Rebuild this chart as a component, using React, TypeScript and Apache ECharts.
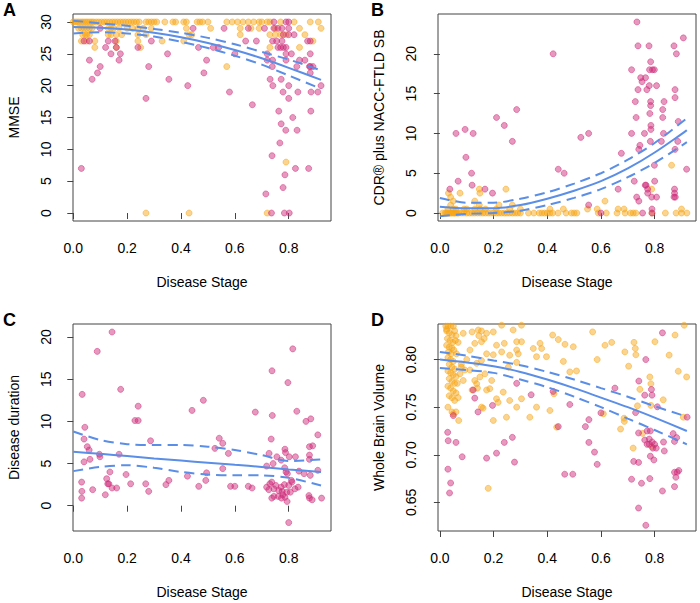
import React, { useEffect, useRef } from "react";
import * as echarts from "echarts";

const FONT = "'Liberation Sans', Arial, Helvetica, sans-serif";
const ORANGE = "rgba(247,165,20,0.6)";
const PINK = "rgba(205,40,120,0.6)";
const BLUE = "#5b8ee6";

const X_TICKS = [0, 0.2, 0.4, 0.6, 0.8];
const A_Y_TICKS = [0, 5, 10, 15, 20, 25, 30];
const B_Y_TICKS = [0, 5, 10, 15, 20];
const C_Y_TICKS = [0, 5, 10, 15, 20];
const D_Y_TICKS = [0.65, 0.7, 0.75, 0.8];

// fitted curves (quadratic fit with 95% CI)
const FIT_X = [0, 0.1, 0.2, 0.3, 0.4, 0.5, 0.6, 0.7, 0.8, 0.92];
const A_FIT = [29.2, 29.1, 28.8, 28.3, 27.6, 26.7, 25.6, 24.3, 22.8, 20.9];
const A_UP = [30.2, 29.8, 29.4, 28.9, 28.3, 27.5, 26.5, 25.3, 24.1, 22.4];
const A_LO = [28.2, 28.4, 28.2, 27.7, 26.9, 25.9, 24.7, 23.3, 21.6, 19.5];
const B_FIT = [0.8, 0.6, 0.6, 1.0, 1.8, 2.8, 4.0, 5.6, 7.6, 10.4];
const B_UP = [1.9, 1.3, 1.3, 1.8, 2.6, 3.7, 5.0, 6.7, 8.8, 11.9];
const B_LO = [-0.4, -0.1, 0.0, 0.3, 1.0, 1.9, 3.0, 4.5, 6.3, 8.9];
const C_FIT = [6.4, 6.15, 5.9, 5.6, 5.35, 5.1, 4.85, 4.6, 4.3, 4.0];
const C_UP = [8.8, 7.8, 7.3, 7.2, 7.2, 7.0, 6.6, 6.0, 5.3, 5.5];
const C_LO = [4.1, 4.6, 4.8, 4.5, 4.0, 3.7, 3.6, 3.6, 3.3, 2.4];
const D_FIT = [0.8, 0.797, 0.793, 0.787, 0.779, 0.77, 0.76, 0.75, 0.739, 0.725];
const D_UP = [0.808, 0.804, 0.799, 0.794, 0.787, 0.779, 0.77, 0.761, 0.751, 0.74];
const D_LO = [0.791, 0.789, 0.786, 0.779, 0.771, 0.761, 0.75, 0.738, 0.726, 0.711];

// Panel A: MMSE
const A_O30 = [0.0, 0.008, 0.015, 0.022, 0.03, 0.037, 0.045, 0.052, 0.06, 0.068, 0.075, 0.085, 0.095, 0.105, 0.115, 0.125, 0.135, 0.145, 0.155, 0.165, 0.175, 0.185, 0.195, 0.205, 0.215, 0.225, 0.235, 0.245, 0.27, 0.28, 0.29, 0.3, 0.31, 0.34, 0.37, 0.38, 0.41, 0.42, 0.46, 0.47, 0.48, 0.5, 0.57, 0.59, 0.61, 0.63, 0.65, 0.67, 0.69, 0.7, 0.72, 0.73, 0.77, 0.82, 0.88, 0.91];
const A_O29 = [0.02, 0.03, 0.04, 0.05, 0.06, 0.07, 0.13, 0.14, 0.15, 0.17, 0.2, 0.22, 0.24, 0.26, 0.29, 0.42, 0.51, 0.62, 0.66, 0.69, 0.75, 0.84, 0.92];
const A_O28 = [0.035, 0.045, 0.05, 0.06, 0.13, 0.14, 0.16, 0.18, 0.24, 0.27, 0.43, 0.44, 0.62, 0.73, 0.75, 0.77, 0.79, 0.86];
const A_O27 = [0.03, 0.05, 0.08, 0.16, 0.24, 0.33, 0.41, 0.89];
const A_O26 = [0.08, 0.16, 0.25, 0.73, 0.84];
const A_O_OTHER: number[][] = [[0.57, 23], [0.79, 8], [0.27, 0], [0.43, 0], [0.72, 0]];
const A_PINK: number[][] = [
  [0.03, 7], [0.06, 24], [0.07, 21], [0.09, 22], [0.1, 23], [0.04, 27], [0.06, 27], [0.1, 29], [0.12, 26], [0.13, 27],
  [0.14, 25], [0.155, 27], [0.16, 26], [0.17, 24], [0.175, 25], [0.24, 26], [0.27, 18], [0.28, 23], [0.29, 27], [0.35, 25],
  [0.355, 21], [0.425, 20], [0.445, 29], [0.465, 26], [0.485, 22], [0.495, 24], [0.52, 26], [0.54, 26], [0.58, 19], [0.6, 25],
  [0.64, 27], [0.665, 17], [0.65, 29], [0.56, 29], [0.739, 23], [0.731, 21], [0.741, 20], [0.772, 21], [0.779, 19], [0.8, 20],
  [0.8, 18], [0.834, 19], [0.883, 19], [0.908, 19], [0.92, 20], [0.877, 23], [0.88, 22], [0.763, 16], [0.815, 15], [0.882, 16],
  [0.772, 14], [0.789, 13], [0.831, 13], [0.767, 11], [0.738, 9], [0.825, 7], [0.874, 7], [0.786, 6], [0.779, 4], [0.715, 3],
  [0.736, 0], [0.784, 0], [0.802, 0], [0.745, 30], [0.79, 30], [0.8, 30], [0.71, 29], [0.745, 29], [0.76, 29], [0.775, 29],
  [0.8, 29], [0.68, 27], [0.74, 27], [0.755, 27], [0.775, 27], [0.87, 27], [0.88, 27], [0.76, 26], [0.77, 26], [0.78, 26],
  [0.79, 26], [0.79, 25], [0.81, 25], [0.88, 25], [0.72, 24], [0.74, 24], [0.79, 24], [0.84, 24], [0.78, 28], [0.8, 28],
  [0.82, 28], [0.72, 25], [0.86, 24], [0.83, 23], [0.88, 23], [0.89, 23],
];

// Panel B: CDR plus NACC-FTLD SB
const B_O0 = [0.01, 0.02, 0.025, 0.03, 0.035, 0.04, 0.045, 0.05, 0.055, 0.06, 0.065, 0.07, 0.08, 0.09, 0.1, 0.11, 0.12, 0.13, 0.14, 0.15, 0.16, 0.17, 0.18, 0.19, 0.2, 0.21, 0.22, 0.23, 0.24, 0.25, 0.26, 0.27, 0.28, 0.29, 0.3, 0.33, 0.35, 0.37, 0.38, 0.39, 0.4, 0.41, 0.42, 0.44, 0.47, 0.49, 0.5, 0.51, 0.59, 0.62, 0.66, 0.69, 0.71, 0.72, 0.73, 0.79, 0.84, 0.88, 0.9, 0.92];
const B_O05 = [0.03, 0.05, 0.06, 0.09, 0.1, 0.13, 0.15, 0.17, 0.21, 0.26, 0.3, 0.41, 0.46, 0.55, 0.586, 0.664, 0.686, 0.9];
const B_O_OTHER: number[][] = [[0.032, 2.5], [0.04, 2], [0.075, 2.5], [0.05, 1.5], [0.147, 3], [0.149, 2.5], [0.246, 3], [0.13, 1.5], [0.147, 1], [0.04, 1], [0.615, 1.5], [0.863, 6], [0.789, 3], [0.22, 1], [0.27, 1]];
const B_PINK: number[][] = [
  [0.037, 3], [0.06, 10], [0.068, 4], [0.094, 10.5], [0.097, 7], [0.118, 5], [0.124, 10], [0.12, 3.5], [0.168, 3], [0.196, 2.5],
  [0.211, 12], [0.24, 11], [0.27, 9], [0.286, 13], [0.422, 20], [0.441, 5.5], [0.463, 5], [0.525, 9.5], [0.554, 10], [0.554, 1],
  [0.6, 0], [0.664, 3], [0.676, 7.5], [0.714, 10], [0.714, 18], [0.724, 4], [0.728, 14], [0.731, 12], [0.733, 2], [0.734, 24],
  [0.738, 21], [0.738, 15.5], [0.741, 8], [0.741, 1.5], [0.745, 8.5], [0.748, 17], [0.753, 16.5], [0.762, 10], [0.765, 3.5], [0.768, 3.5],
  [0.766, 17], [0.771, 15.5], [0.774, 3], [0.774, 2.5], [0.779, 21], [0.78, 16], [0.781, 18], [0.782, 12.5], [0.785, 19], [0.785, 14],
  [0.785, 13.5], [0.786, 11], [0.786, 10.5], [0.784, 9], [0.789, 2], [0.79, 0.5], [0.792, 18], [0.799, 18], [0.799, 6], [0.8, 4],
  [0.807, 16], [0.807, 2], [0.825, 9], [0.83, 13], [0.83, 12], [0.833, 10], [0.835, 14], [0.872, 21], [0.876, 15.5], [0.876, 14.5],
  [0.876, 8], [0.874, 3], [0.874, 2.5], [0.872, 2], [0.877, 2], [0.881, 20], [0.886, 9], [0.888, 11.5], [0.907, 22], [0.919, 5.5],
  [0.755, 0], [0.79, 0],
];

// Panel C: Disease duration
const C_PINK: number[][] = [
  [0.033, 13.2], [0.031, 2.8], [0.032, 1.7], [0.031, 0.9], [0.04, 7.9], [0.04, 5.2], [0.043, 9.3], [0.052, 7.0], [0.059, 6.6], [0.062, 5.5],
  [0.072, 1.9], [0.089, 18.3], [0.097, 6.1], [0.099, 5.8], [0.119, 1.3], [0.124, 3.2], [0.128, 2.6], [0.132, 2.6], [0.136, 4.0], [0.144, 20.6],
  [0.144, 2.1], [0.161, 2.1], [0.17, 6.1], [0.176, 13.8], [0.196, 3.7], [0.213, 2.6], [0.229, 10.1], [0.241, 10.1], [0.241, 11.8], [0.269, 2.6],
  [0.28, 1.7], [0.287, 7.7], [0.344, 2.5], [0.355, 3.0], [0.424, 3.5], [0.441, 11.3], [0.466, 2.3], [0.483, 12.5], [0.492, 3.0], [0.495, 3.9],
  [0.526, 6.8], [0.542, 8.0], [0.555, 7.4], [0.555, 4.4], [0.576, 6.2], [0.584, 2.3], [0.6, 2.3], [0.65, 2.3], [0.664, 2.1], [0.676, 11.1],
  [0.815, 18.6], [0.738, 16.0], [0.797, 14.6], [0.739, 10.7], [0.83, 11.2], [0.864, 10.0], [0.882, 10.3], [0.908, 8.4], [0.735, 7.9], [0.877, 7.0],
  [0.889, 7.1], [0.786, 6.7], [0.788, 6.3], [0.727, 6.2], [0.756, 5.8], [0.802, 5.8], [0.825, 5.8], [0.877, 6.0], [0.877, 5.5], [0.772, 5.4],
  [0.742, 5.0], [0.718, 4.7], [0.785, 4.5], [0.838, 4.1], [0.857, 3.8], [0.88, 3.6], [0.908, 4.2], [0.718, 2.2], [0.73, 2.6], [0.737, 2.8],
  [0.752, 2.4], [0.726, 1.9], [0.745, 2.0], [0.763, 1.8], [0.772, 2.2], [0.776, 1.7], [0.778, 1.3], [0.784, 2.5], [0.793, 1.6], [0.806, 1.6],
  [0.823, 2.0], [0.835, 2.2], [0.812, 2.8], [0.8, 2.4], [0.737, 0.9], [0.745, 1.1], [0.761, 1.1], [0.773, 0.9], [0.786, 1.0], [0.794, 0.5],
  [0.875, 1.2], [0.877, 0.9], [0.887, 0.7], [0.922, 0.9], [0.8, -2.0], [0.79, 4.0], [0.795, 3.8], [0.81, 3.0],
];

// Panel D: Whole Brain Volume
const D_ORANGE: number[][] = [
  [0.022, 0.835], [0.03, 0.835], [0.04, 0.835], [0.05, 0.835], [0.025, 0.83], [0.035, 0.828], [0.045, 0.826], [0.055, 0.83], [0.06, 0.825], [0.028, 0.822],
  [0.038, 0.82], [0.048, 0.818], [0.058, 0.82], [0.068, 0.818], [0.025, 0.815], [0.035, 0.813], [0.045, 0.812], [0.032, 0.808], [0.042, 0.806], [0.052, 0.81],
  [0.062, 0.806], [0.03, 0.802], [0.04, 0.8], [0.05, 0.798], [0.035, 0.795], [0.045, 0.792], [0.055, 0.79], [0.03, 0.788], [0.04, 0.786], [0.05, 0.784],
  [0.06, 0.782], [0.035, 0.78], [0.045, 0.777], [0.055, 0.775], [0.03, 0.772], [0.04, 0.77], [0.05, 0.767], [0.06, 0.765], [0.035, 0.762], [0.045, 0.76],
  [0.055, 0.757], [0.03, 0.75], [0.045, 0.745], [0.05, 0.743], [0.07, 0.736], [0.065, 0.775], [0.075, 0.785], [0.08, 0.795], [0.025, 0.8317], [0.087, 0.8275],
  [0.12, 0.829], [0.143, 0.831], [0.155, 0.83], [0.174, 0.8275], [0.199, 0.829], [0.23, 0.836], [0.273, 0.831], [0.304, 0.836], [0.211, 0.815], [0.24, 0.817],
  [0.286, 0.8187], [0.304, 0.8187], [0.286, 0.81], [0.348, 0.8116], [0.373, 0.817], [0.379, 0.8116], [0.36, 0.803], [0.397, 0.803], [0.42, 0.8257], [0.441, 0.821],
  [0.466, 0.816], [0.497, 0.8134], [0.46, 0.798], [0.484, 0.787], [0.509, 0.788], [0.569, 0.829], [0.586, 0.8], [0.615, 0.815], [0.64, 0.818], [0.689, 0.808],
  [0.703, 0.793], [0.723, 0.818], [0.728, 0.8116], [0.73, 0.805], [0.745, 0.7687], [0.736, 0.7514], [0.72, 0.707], [0.686, 0.7384], [0.687, 0.735], [0.673, 0.727],
  [0.755, 0.7225], [0.782, 0.7817], [0.786, 0.7746], [0.786, 0.7518], [0.789, 0.7085], [0.801, 0.8187], [0.854, 0.8046], [0.876, 0.8257], [0.888, 0.7877], [0.919, 0.7817],
  [0.91, 0.836], [0.832, 0.7577], [0.907, 0.7394], [0.609, 0.743], [0.18, 0.6648], [0.199, 0.736], [0.248, 0.7394], [0.335, 0.7394], [0.36, 0.75], [0.41, 0.7465],
  [0.425, 0.764], [0.435, 0.729], [0.286, 0.75], [0.304, 0.7588], [0.26, 0.757], [0.236, 0.7658], [0.211, 0.7588], [0.217, 0.755], [0.186, 0.7694], [0.174, 0.768],
  [0.155, 0.75], [0.161, 0.749], [0.137, 0.7746], [0.13, 0.778], [0.149, 0.7817], [0.168, 0.785], [0.193, 0.778], [0.112, 0.789], [0.093, 0.789], [0.137, 0.796],
  [0.155, 0.799], [0.174, 0.806], [0.199, 0.805], [0.112, 0.81], [0.13, 0.817], [0.155, 0.8187], [0.087, 0.778], [0.08, 0.792], [0.255, 0.792], [0.286, 0.797],
  [0.292, 0.806], [0.26, 0.8045], [0.23, 0.808], [0.145, 0.825], [0.165, 0.822], [0.1, 0.8], [0.12, 0.768], [0.14, 0.77], [0.06, 0.745], [0.068, 0.76],
];
const D_PINK: number[][] = [
  [0.029, 0.7236], [0.031, 0.7148], [0.03, 0.6849], [0.04, 0.6704], [0.036, 0.6599], [0.05, 0.7412], [0.06, 0.713], [0.083, 0.6979], [0.124, 0.768], [0.13, 0.7595],
  [0.142, 0.745], [0.174, 0.6965], [0.196, 0.7518], [0.211, 0.7017], [0.24, 0.713], [0.27, 0.7183], [0.278, 0.6923], [0.286, 0.775], [0.34, 0.763], [0.422, 0.7665],
  [0.441, 0.7296], [0.465, 0.6796], [0.495, 0.6796], [0.484, 0.7528], [0.542, 0.7296], [0.555, 0.7369], [0.555, 0.713], [0.576, 0.7028], [0.586, 0.69], [0.6, 0.744],
  [0.652, 0.77], [0.829, 0.828], [0.767, 0.8], [0.741, 0.7774], [0.788, 0.7686], [0.763, 0.7626], [0.79, 0.7626], [0.81, 0.7504], [0.729, 0.7443], [0.74, 0.7229],
  [0.763, 0.7155], [0.772, 0.725], [0.784, 0.725], [0.772, 0.711], [0.78, 0.711], [0.791, 0.7134], [0.8, 0.711], [0.78, 0.7165], [0.793, 0.707], [0.806, 0.707],
  [0.784, 0.6985], [0.797, 0.6946], [0.722, 0.693], [0.74, 0.692], [0.833, 0.7134], [0.836, 0.704], [0.869, 0.7222], [0.874, 0.714], [0.882, 0.718], [0.714, 0.6743],
  [0.751, 0.6701], [0.782, 0.675], [0.874, 0.6817], [0.884, 0.6817], [0.879, 0.6764], [0.874, 0.6666], [0.829, 0.662], [0.74, 0.6441], [0.767, 0.626], [0.89, 0.6835],
  [0.921, 0.7395],
];

function rowPoints(xs: number[], y: number): number[][] {
  return xs.map((x) => [x, y]);
}
function curve(ys: number[]): number[][] {
  return FIT_X.map((x, i) => [x, ys[i]]);
}

const A_ORANGE = [
  ...rowPoints(A_O30, 30),
  ...rowPoints(A_O29, 29),
  ...rowPoints(A_O28, 28),
  ...rowPoints(A_O27, 27),
  ...rowPoints(A_O26, 26),
  ...A_O_OTHER,
];
const B_ORANGE = [...rowPoints(B_O0, 0), ...rowPoints(B_O05, 0.5), ...B_O_OTHER];

// yStep: spacing of the labelled ticks; yFine: an interval that divides both yMin and yStep
const PANELS = [
  { letter: "A", yName: "MMSE", yMin: -1.25, yMax: 31.25, yFine: 1.25, yStep: 5, yTicks: A_Y_TICKS, dec: 0, orange: A_ORANGE, pink: A_PINK, fit: A_FIT, up: A_UP, lo: A_LO, left: 73, top: 14, xMin: -0.001, xMax: 0.957 },
  { letter: "B", yName: "CDR\u00AE plus NACC-FTLD SB", yMin: -1, yMax: 25, yFine: 1, yStep: 5, yTicks: B_Y_TICKS, dec: 0, orange: B_ORANGE, pink: B_PINK, fit: B_FIT, up: B_UP, lo: B_LO, left: 438, top: 14, xMin: -0.007, xMax: 0.954 },
  { letter: "C", yName: "Disease duration", yMin: -3, yMax: 21.55, yFine: 1, yStep: 5, yTicks: C_Y_TICKS, dec: 0, orange: [], pink: C_PINK, fit: C_FIT, up: C_UP, lo: C_LO, left: 73, top: 324, xMin: -0.001, xMax: 0.957 },
  { letter: "D", yName: "Whole Brain Volume", yMin: 0.62, yMax: 0.8373, yFine: 0.01, yStep: 0.05, yTicks: D_Y_TICKS, dec: 2, orange: D_ORANGE, pink: D_PINK, fit: D_FIT, up: D_UP, lo: D_LO, left: 438, top: 324, xMin: -0.007, xMax: 0.954 },
];

export default function App() {
  const ref = useRef<HTMLDivElement>(null);
  useEffect(() => {
    if (!ref.current) return;
    const chart = echarts.init(ref.current, undefined, { renderer: "svg" });
    const grid: any[] = [];
    const xAxis: any[] = [];
    const yAxis: any[] = [];
    const series: any[] = [];
    const title: any[] = [];
    PANELS.forEach((p, i) => {
      grid.push({ left: p.left, top: p.top, width: 258, height: 207, show: true, borderColor: "#444", borderWidth: 1, backgroundColor: "transparent" });
      title.push({
        text: p.letter,
        left: p.left < 200 ? 3 : 371,
        top: p.top < 100 ? 1 : 311,
        padding: 0,
        textStyle: { fontSize: 18, fontWeight: "bold", fontFamily: FONT, color: "#000" },
      });
      xAxis.push({
        type: "value", gridIndex: i, min: p.xMin, max: p.xMax,
        axisLine: { show: false }, splitLine: { show: false },
        axisTick: { show: true, length: 6, customValues: X_TICKS, lineStyle: { color: "#444" } },
        axisLabel: { customValues: X_TICKS, formatter: (v: number) => v.toFixed(1), margin: 20, fontSize: 14, color: "#000", fontFamily: FONT },
        name: "Disease Stage", nameLocation: "middle", nameGap: 54,
        nameTextStyle: { fontSize: 14, color: "#000", fontFamily: FONT },
      });
      const tickSet = p.yTicks;
      yAxis.push({
        type: "value", gridIndex: i, min: p.yMin, max: p.yMax, interval: p.yFine,
        axisLine: { show: false }, splitLine: { show: false },
        axisTick: { show: true, length: 6, customValues: tickSet, lineStyle: { color: "#444" } },
        axisLabel: {
          rotate: 90, margin: 20, fontSize: 14, color: "#000", fontFamily: FONT,
          showMinLabel: true, showMaxLabel: true,
          formatter: (v: number) => {
            const hit = tickSet.some((t) => Math.abs(t - v) < p.yFine * 1e-3);
            return hit ? v.toFixed(p.dec) : "";
          },
        },
        name: p.yName, nameLocation: "middle", nameGap: 52,
        nameTextStyle: { fontSize: 14, color: "#000", fontFamily: FONT },
      });
      const sc = (data: number[][], color: string) => ({
        type: "scatter", xAxisIndex: i, yAxisIndex: i, data, symbolSize: 6, silent: true,
        itemStyle: { color, borderColor: color, borderWidth: 1 },
      });
      if (p.orange.length) series.push(sc(p.orange, ORANGE));
      series.push(sc(p.pink, PINK));
      const ln = (ys: number[], type: any) => ({
        type: "line", xAxisIndex: i, yAxisIndex: i, data: curve(ys), showSymbol: false, smooth: 0.3, silent: true,
        lineStyle: { color: BLUE, width: 2, type }, z: 5,
      });
      series.push(ln(p.fit, "solid"));
      series.push(ln(p.up, [10, 6]));
      series.push(ln(p.lo, [10, 6]));
    });
    chart.setOption({ animation: false, backgroundColor: "#fff", title, grid, xAxis, yAxis, series });
    return () => chart.dispose();
  }, []);
  return <div ref={ref} style={{ position: "fixed", left: 0, top: 0, width: 700, height: 603 }} />;
}
